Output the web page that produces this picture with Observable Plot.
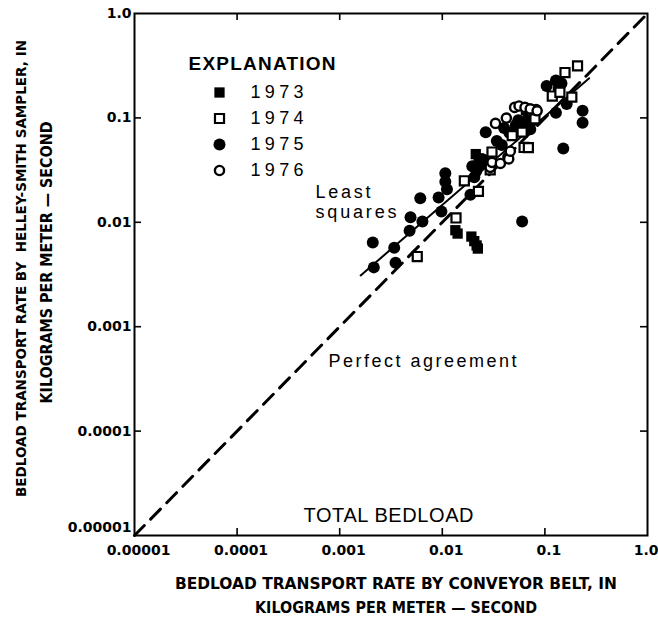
<!DOCTYPE html>
<html>
<head>
<meta charset="utf-8">
<script src="https://cdn.jsdelivr.net/npm/d3@7"></script>
<script src="https://cdn.jsdelivr.net/npm/@observablehq/plot@0.6"></script>
<style>
  html, body { margin: 0; padding: 0; background: #fff; }
  #chart { width: 658px; height: 623px; }
</style>
</head>
<body>
<div id="chart"></div>
<script>
// ---- Data (kg per meter-second) ----
const x1973 = [0.0134, 0.0141, 0.0192, 0.0205, 0.0216, 0.0222, 0.0212, 0.0226, 0.0238, 0.068, 0.074];
const y1973 = [0.0084, 0.0078, 0.0073, 0.0066, 0.0060, 0.0056, 0.045, 0.041, 0.036, 0.110, 0.096];

const x1974 = [0.0057, 0.0136, 0.0164, 0.0225, 0.0293, 0.0305, 0.048, 0.060, 0.0627, 0.069, 0.066, 0.074, 0.080, 0.118, 0.140, 0.183, 0.157, 0.208];
const y1974 = [0.0047, 0.0110, 0.0250, 0.0198, 0.0318, 0.0471, 0.0676, 0.073, 0.0521, 0.052, 0.120, 0.117, 0.098, 0.162, 0.176, 0.158, 0.272, 0.315];

const x1975 = [0.0021, 0.00215, 0.0034, 0.0035, 0.0048, 0.0049, 0.0061, 0.0064, 0.0092, 0.0098, 0.0107, 0.0107, 0.0111, 0.0188, 0.0196, 0.0205, 0.0215, 0.0265, 0.025, 0.034, 0.040, 0.045, 0.055, 0.060, 0.065, 0.070, 0.076, 0.082, 0.072, 0.104, 0.128, 0.136, 0.145, 0.128, 0.151, 0.163, 0.233, 0.233, 0.038, 0.052];
const y1975 = [0.0064, 0.0037, 0.0057, 0.0041, 0.0083, 0.0112, 0.0170, 0.0102, 0.0173, 0.0127, 0.0295, 0.0244, 0.0207, 0.0184, 0.0345, 0.027, 0.031, 0.0728, 0.040, 0.060, 0.080, 0.072, 0.095, 0.0102, 0.088, 0.100, 0.112, 0.120, 0.078, 0.202, 0.228, 0.190, 0.215, 0.112, 0.051, 0.136, 0.117, 0.090, 0.055, 0.085];

const x1976 = [0.0293, 0.0305, 0.033, 0.0368, 0.0421, 0.0436, 0.0444, 0.0507, 0.056, 0.064, 0.072, 0.084, 0.046];
const y1976 = [0.0336, 0.0375, 0.0886, 0.0366, 0.0997, 0.0421, 0.0405, 0.126, 0.130, 0.126, 0.122, 0.117, 0.048];

// Least-squares fit line end points and the 1:1 line
const lsX = [0.0016, 0.27];
const lsY = [0.0031, 0.24];
const perfectX = [0.00001, 1];
const perfectY = [0.00001, 1];

// Axis ticks and labels
const tickValues = [0.00001, 0.0001, 0.001, 0.01, 0.1, 1];
const xTickLabels = ["0.00001", "0.0001", "0.001", "0.01", "0.1", "1.0"];
const yTickLabels = ["0.00001", "0.0001", "0.001", "0.01", "0.1", "1.0"];
const innerTicks = [0.0001, 0.001, 0.01, 0.1];

// Legend
const years = ["1973", "1974", "1975", "1976"];

const xTitle = ["BEDLOAD TRANSPORT RATE BY CONVEYOR BELT, IN", "KILOGRAMS PER METER \u2014 SECOND"];
const yTitle = ["BEDLOAD TRANSPORT RATE BY  HELLEY-SMITH SAMPLER, IN", "KILOGRAMS PER METER \u2014 SECOND"];

// ---- Build tables ----
const pts = (xs, ys) => xs.map((x, i) => ({x, y: ys[i]}));
const d1973 = pts(x1973, y1973), d1974 = pts(x1974, y1974), d1975 = pts(x1975, y1975), d1976 = pts(x1976, y1976);
const lsLine = pts(lsX, lsY);
const perfLine = pts(perfectX, perfectY);

const W = 658, H = 623;
const mL = 134, mR = 11, mT = 13, mB = 88;
const innerH = H - mT - mB;
const innerW = W - mL - mR;
const tickLen = 7;

const boldFont = "'DejaVu Sans', Verdana, sans-serif";
const lettering = "'Liberation Sans', Arial, Helvetica, sans-serif";

const symStyle = {
  "1973": {symbol: "square", r: 5.8, fill: "black", stroke: "none"},
  "1974": {symbol: "square", r: 5.1, fill: "white", stroke: "black", strokeWidth: 2.2},
  "1975": {symbol: "circle", r: 6, fill: "black", stroke: "none"},
  "1976": {symbol: "circle", r: 4.6, fill: "white", stroke: "black", strokeWidth: 2.4}
};

const T = (txt, o) => Plot.text([txt], {text: d => d, lineAnchor: "middle", ...o});

const legendMarks = [];
years.forEach((yr, i) => {
  const s = symStyle[yr];
  legendMarks.push(Plot.dot([yr], {frameAnchor: "top-left", dx: 219 - mL, dy: 92 - mT + i * 26, symbol: s.symbol, r: s.r, fill: s.fill, stroke: s.stroke, strokeWidth: s.strokeWidth}));
  legendMarks.push(T(yr, {frameAnchor: "top-left", dx: 250 - mL, dy: 92 - mT + i * 26, textAnchor: "start", fontFamily: lettering, fontSize: 18}));
});

const chart = Plot.plot({
  width: W,
  height: H,
  marginLeft: mL, marginRight: mR, marginTop: mT, marginBottom: mB,
  x: {type: "log", domain: [0.00001, 1], axis: null},
  y: {type: "log", domain: [0.00001, 1], axis: null},
  style: {background: "white", color: "black"},
  marks: [
    // inward ticks on all four sides
    Plot.ruleX(innerTicks, {x: d => d, insetTop: innerH - tickLen, strokeWidth: 1.6}),
    Plot.ruleX(innerTicks, {x: d => d, insetBottom: innerH - tickLen, strokeWidth: 1.6}),
    Plot.ruleY(innerTicks, {y: d => d, insetRight: innerW - tickLen, strokeWidth: 1.6}),
    Plot.ruleY(innerTicks, {y: d => d, insetLeft: innerW - tickLen, strokeWidth: 1.6}),
    // lines
    Plot.line(perfLine, {x: "x", y: "y", strokeWidth: 3, strokeDasharray: "14,9"}),
    Plot.line(lsLine, {x: "x", y: "y", strokeWidth: 2}),
    // points
    Plot.dot(d1975, {x: "x", y: "y", ...symStyle["1975"]}),
    Plot.dot(d1973, {x: "x", y: "y", ...symStyle["1973"]}),
    Plot.dot(d1974, {x: "x", y: "y", ...symStyle["1974"]}),
    Plot.dot(d1976, {x: "x", y: "y", ...symStyle["1976"]}),
    Plot.frame({strokeWidth: 2}),
    // tick labels
    Plot.text(tickValues.slice(0, 5), {x: d => d, text: (d, i) => xTickLabels[i], frameAnchor: "bottom", lineAnchor: "middle", dy: 15, dx: 4, fontFamily: boldFont, fontWeight: "bold", fontSize: 14}),
    Plot.text(tickValues.slice(5), {x: d => d, text: (d, i) => xTickLabels[i + 5], frameAnchor: "bottom", lineAnchor: "middle", textAnchor: "end", dy: 15, dx: 11, fontFamily: boldFont, fontWeight: "bold", fontSize: 14}),
    Plot.text(tickValues.slice(1), {y: d => d, text: (d, i) => yTickLabels[i + 1], frameAnchor: "left", lineAnchor: "middle", textAnchor: "end", dx: -3, fontFamily: boldFont, fontWeight: "bold", fontSize: 14}),
    Plot.text(tickValues.slice(0, 1), {y: d => d, text: (d, i) => yTickLabels[i], frameAnchor: "left", lineAnchor: "middle", textAnchor: "end", dx: -3, dy: -8, fontFamily: boldFont, fontWeight: "bold", fontSize: 14}),
    // axis titles
    T(xTitle[0], {frameAnchor: "bottom", dx: 5, dy: 48, fontFamily: boldFont, fontWeight: "bold", fontSize: 16}),
    T(xTitle[1], {frameAnchor: "bottom", dx: 5, dy: 72, fontFamily: boldFont, fontWeight: "bold", fontSize: 16}),
    T(yTitle[0], {frameAnchor: "left", textAnchor: "middle", rotate: -90, dx: -113, dy: -6, fontFamily: boldFont, fontWeight: "bold", fontSize: 14}),
    T(yTitle[1], {frameAnchor: "left", textAnchor: "middle", rotate: -90, dx: -88, dy: -12, fontFamily: boldFont, fontWeight: "bold", fontSize: 16}),
    // annotations
    T("EXPLANATION", {frameAnchor: "top-left", dx: 188 - mL, dy: 63 - mT, textAnchor: "start", fontFamily: lettering, fontWeight: "bold", fontSize: 19}),
    ...legendMarks,
    T("Least", {frameAnchor: "top-left", dx: 315 - mL, dy: 192 - mT, textAnchor: "start", fontFamily: lettering, fontSize: 18}),
    T("squares", {frameAnchor: "top-left", dx: 315 - mL, dy: 212 - mT, textAnchor: "start", fontFamily: lettering, fontSize: 18}),
    T("Perfect agreement", {frameAnchor: "top-left", dx: 328 - mL, dy: 361 - mT, textAnchor: "start", fontFamily: lettering, fontSize: 18}),
    T("TOTAL BEDLOAD", {frameAnchor: "top-left", dx: 388 - mL, dy: 515 - mT, textAnchor: "middle", fontFamily: lettering, fontSize: 20})
  ]
});
document.getElementById("chart").appendChild(chart);

// Fit the hand-lettered / condensed texts to their widths in the figure
const widths = new Map([
  ["EXPLANATION", [147, "spacing"]],
  ["1973", [53, "spacing"]], ["1974", [53, "spacing"]], ["1975", [53, "spacing"]], ["1976", [53, "spacing"]],
  ["Least", [55, "spacing"]], ["squares", [81, "spacing"]],
  ["Perfect agreement", [188, "spacing"]], ["TOTAL BEDLOAD", [170, "spacing"]],
  [xTitle[0], [442, "spacingAndGlyphs"]], [xTitle[1], [290, "spacingAndGlyphs"]],
  [yTitle[0], [457, "spacingAndGlyphs"]], [yTitle[1], [282, "spacingAndGlyphs"]]
]);
d3.select(chart).selectAll("text").each(function() {
  const w = widths.get(this.textContent);
  if (w) {
    this.setAttribute("textLength", w[0]);
    this.setAttribute("lengthAdjust", w[1]);
  }
});
</script>
</body>
</html>
